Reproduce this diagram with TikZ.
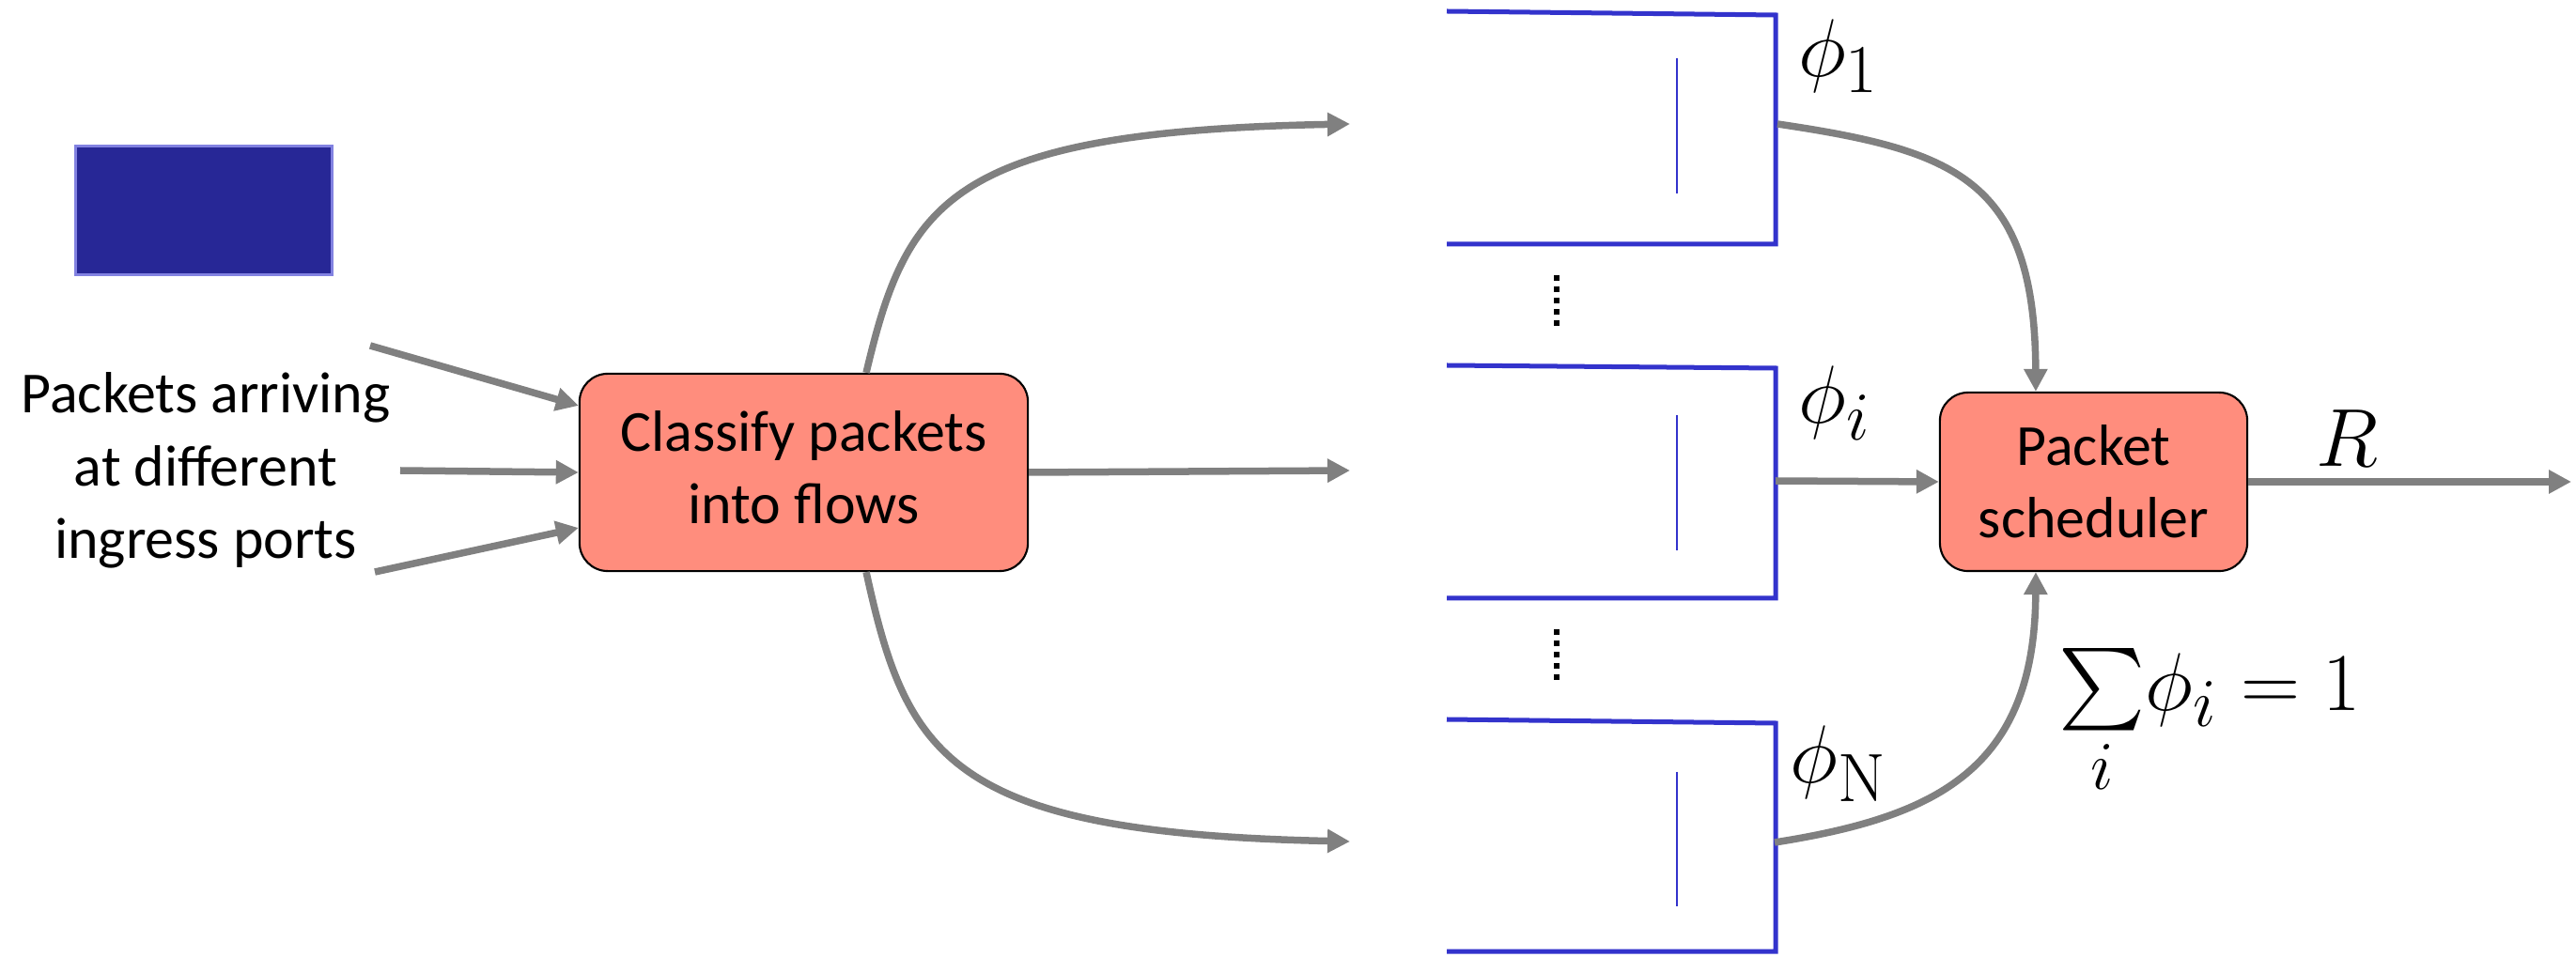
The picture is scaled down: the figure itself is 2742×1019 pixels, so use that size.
\documentclass[tikz,border=0pt]{standalone}
\usepackage{amsmath}
\usepackage[no-math]{fontspec}
\setmainfont{Carlito}
\usepackage{tikz}
\usetikzlibrary{positioning,arrows.meta}
\definecolor{salmon}{RGB}{255,141,125}
\definecolor{pktblue}{RGB}{39,39,150}
\definecolor{pktedge}{RGB}{130,130,225}
\definecolor{queueblue}{RGB}{51,51,204}
\definecolor{arrowgray}{RGB}{128,128,128}

\begin{document}
\begin{tikzpicture}[x=0.01cm, y=-0.01cm, >={Triangle[length=0.24cm, width=0.24cm]},
			every node/.style={font=\fontsize{17.6pt}{22pt}\selectfont},
			word/.style={draw=none, align=center, inner sep=0pt},
			classbox/.style={draw=black, line width=0.6pt, fill=salmon, rounded corners=0.3cm, align=center, inner sep=0pt},
			pktbox/.style={draw=pktedge, line width=0.03cm, fill=pktblue, minimum width=2.73cm, minimum height=1.37cm, inner sep=0pt},
			mathlabel/.style={draw=none, inner sep=0pt, font=\fontsize{24.88pt}{30pt}\selectfont},
			queueLine/.style={line width=0.05cm, color=queueblue},
			slotLine/.style={line width=0.02cm, color=queueblue},
			flowLine/.style={line width=0.075cm, ->, color=arrowgray},
			dotLine/.style={line width=0.06cm, dash pattern=on 0.06cm off 0.06cm}
			]
			\useasboundingbox (0,0) rectangle (2742,1019);
			
			\node[pktbox](pkt) at (217,224) {};
			\node[word](ports) at (219,501) {Packets arriving\\at different\\ingress ports};
			
			\node[classbox, minimum width=4.77cm, minimum height=2.1cm](classify) at (855.5,503) {Classify packets\\into flows\vphantom{g}};
			\node[classbox, minimum width=3.27cm, minimum height=1.9cm](sched) at (2228.5,513) {Packet\\scheduler};
			
			\coordinate (in1) at (394,368);
			\coordinate (in2) at (426,501);
			\coordinate (in3) at (399,609);
			
			\coordinate (f1) at (1437,132);
			\coordinate (fi) at (1437,501);
			\coordinate (fN) at (1437,896);
			
			\coordinate (q1out) at (1892,132);
			\coordinate (q2out) at (1890,512);
			\coordinate (q3out) at (1889,897);
			\coordinate (out) at (2737,513);
			
			% queues
			\draw [queueLine] (1540,12) -- (1890,16) -- (1890,260) -- (1540,260);
			\draw [slotLine] (1785,62) -- (1785,206);
			
			\draw [queueLine] (1540,389) -- (1890,392) -- (1890,637) -- (1540,637);
			\draw [slotLine] (1785,442) -- (1785,586);
			
			\draw [queueLine] (1540,766) -- (1890,770) -- (1890,1013) -- (1540,1013);
			\draw [slotLine] (1785,822) -- (1785,965);
			
			\draw [dotLine] (1657,293) -- (1657,347);
			\draw [dotLine] (1657,670) -- (1657,724);
			
			\node[mathlabel](phi1) at (1957,60) {$\phi_1$};
			\node[mathlabel](phii) at (1953,429) {$\phi_i$};
			\node[mathlabel](phiN) at (1957,813) {$\phi_{\mathrm{N}}$};
			\node[mathlabel](rate) at (2498,467) {$R$};
			\node[mathlabel](norm) at (2352,770) {$\sum\limits_i\!\phi_i = 1$};
			
			% arrows
			\draw [flowLine] (in1) to ([yshift=0.71cm]classify.west);
			\draw [flowLine] (in2) to (classify.west);
			\draw [flowLine] (in3) to ([yshift=-0.59cm]classify.west);
			
			\draw [flowLine] ([xshift=0.665cm]classify.north) .. controls (965,215) and (1010,140) .. (f1);
			\draw [flowLine] (classify.east) to (fi);
			\draw [flowLine] ([xshift=0.665cm]classify.south) .. controls (965,806) and (1010,887) .. (fN);
			
			\draw [flowLine] (q1out) .. controls (2080,160) and (2166,190) .. ([xshift=-0.615cm]sched.north);
			\draw [flowLine] (q2out) to (sched.west);
			\draw [flowLine] (q3out) .. controls (2060,870) and (2166,820) .. ([xshift=-0.615cm]sched.south);
			\draw [flowLine] (sched.east) to (out);
			
\end{tikzpicture}
\end{document}
